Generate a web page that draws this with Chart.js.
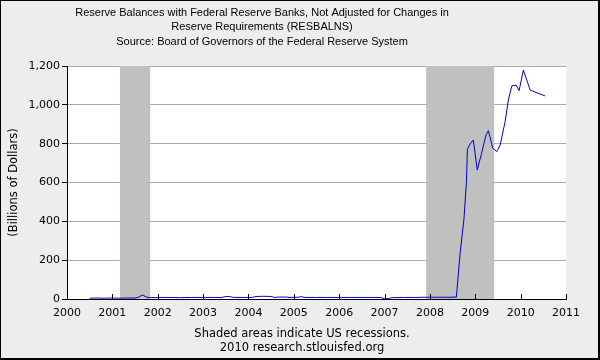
<!DOCTYPE html>
<html>
<head>
<meta charset="utf-8">
<title>RESBALNS</title>
<script src="https://cdn.jsdelivr.net/npm/chart.js@4.4.1/dist/chart.umd.min.js"></script>
<style>
    html, body { margin: 0; padding: 0; background: #ededed; }
    #wrap { width: 600px; height: 360px; }
</style>
</head>
<body>
<div id="wrap"><canvas id="resChart" width="600" height="360"></canvas></div>
<script>
// ==============================================================================
// 1. DATA
// ==============================================================================
const titleLines = [
    "Reserve Balances with Federal Reserve Banks, Not Adjusted for Changes in",
    "Reserve Requirements (RESBALNS)",
    "Source: Board of Governors of the Federal Reserve System"
];
const captionLines = ["Shaded areas indicate US recessions.", "2010 research.stlouisfed.org"];
const yAxisLabel = "(Billions of Dollars)";

// observation dates and reserve balances (billions of dollars)
const dates = [
    '2000-07-01', '2000-09-01', '2000-11-01', '2001-01-01', '2001-03-01', '2001-05-01', '2001-07-01',
    '2001-08-01', '2001-09-01', '2001-10-01', '2001-11-01', '2002-01-01', '2002-04-01', '2002-07-01',
    '2002-10-01', '2003-01-01', '2003-04-01', '2003-06-01', '2003-07-01', '2003-08-01', '2003-09-01',
    '2003-12-01', '2004-02-01', '2004-03-01', '2004-05-01', '2004-07-01', '2004-08-01', '2004-09-01',
    '2004-11-01', '2004-12-01', '2005-02-01', '2005-03-01', '2005-04-01', '2005-07-01', '2005-10-01',
    '2006-01-01', '2006-04-01', '2006-07-01', '2006-10-01', '2006-12-01', '2007-01-01', '2007-02-01',
    '2007-03-01', '2007-06-01', '2007-09-01', '2007-12-01', '2008-03-01', '2008-06-01', '2008-08-01',
    '2008-09-01', '2008-10-01', '2008-10-21', '2008-10-29', '2008-11-19', '2008-12-16', '2009-01-17',
    '2009-02-21', '2009-03-27', '2009-04-15', '2009-05-21', '2009-06-22', '2009-07-19', '2009-08-28',
    '2009-09-24', '2009-10-21', '2009-11-25', '2009-12-19', '2010-01-23', '2010-03-17', '2010-05-10',
    '2010-07-15'
];
const reserves = [
    4, 5, 4, 5, 4, 5, 5,
    10, 21, 10, 7, 8, 8, 7,
    8, 8, 8, 8, 13, 13, 8,
    8, 8, 13, 14, 13, 8, 10,
    10, 8, 9, 12, 8, 8, 8,
    8, 8, 8, 8, 8, 2, 2,
    7, 8, 8, 9, 9, 9, 10,
    237, 410, 600, 770, 798, 819, 664,
    750, 845, 867, 776, 759, 793, 913,
    1025, 1097, 1102, 1073, 1179, 1076, 1062,
    1046
];

// NBER recessions (peak month, trough month)
const recessionStarts = ['2001-03-01', '2007-12-01'];
const recessionEnds = ['2001-11-01', '2009-06-01'];

const yearTicks = [2000, 2001, 2002, 2003, 2004, 2005, 2006, 2007, 2008, 2009, 2010, 2011];
const valueTicks = [0, 200, 400, 600, 800, 1000, 1200];

// ==============================================================================
// 2. HELPERS
// ==============================================================================
function toYear(str) {
    const p = str.split('-').map(Number);
    return p[0] + (p[1] - 1) / 12 + (p[2] - 1) / 365;
}

const points = dates.map((d, i) => ({ x: toYear(d), y: reserves[i] }));

// frame, panel background, titles and captions
const framePlugin = {
    id: 'frame',
    beforeDraw(chart) {
        const ctx = chart.ctx, a = chart.chartArea;
        ctx.save();
        ctx.fillStyle = '#000';
        ctx.fillRect(0, 0, 600, 360);
        ctx.fillStyle = '#ededed';
        ctx.fillRect(1, 1, 597, 357);
        ctx.fillStyle = '#fff';
        ctx.fillRect(a.left, a.top, a.right - a.left, a.bottom - a.top);
        ctx.restore();
    },
    afterDraw(chart) {
        const ctx = chart.ctx;
        ctx.save();
        ctx.fillStyle = '#000';
        ctx.textAlign = 'center';
        ctx.textBaseline = 'alphabetic';
        ctx.font = '11px "Liberation Sans", Arial, sans-serif';
        titleLines.forEach((t, i) => ctx.fillText(t, 262, 15.5 + i * 14.5));
        ctx.font = '11.5px "DejaVu Sans", Verdana, sans-serif';
        captionLines.forEach((t, i) => ctx.fillText(t, 302, 337 + i * 14));
        ctx.restore();
    }
};

// grey recession bands plus the small inward year ticks
const recessionPlugin = {
    id: 'recessions',
    beforeDatasetsDraw(chart) {
        const ctx = chart.ctx, a = chart.chartArea, xs = chart.scales.x;
        ctx.save();
        ctx.fillStyle = '#c0c0c0';
        recessionStarts.forEach((s, i) => {
            const x0 = xs.getPixelForValue(toYear(s));
            const x1 = xs.getPixelForValue(toYear(recessionEnds[i]));
            ctx.fillRect(x0, a.top, x1 - x0, a.bottom - a.top);
        });
        ctx.restore();
    },
    afterDatasetsDraw(chart) {
        const ctx = chart.ctx, a = chart.chartArea, xs = chart.scales.x;
        ctx.save();
        ctx.strokeStyle = '#000';
        ctx.lineWidth = 1;
        ctx.beginPath();
        yearTicks.slice(1).forEach(yr => {
            const x = Math.round(xs.getPixelForValue(yr)) + 0.5;
            ctx.moveTo(x, a.bottom);
            ctx.lineTo(x, a.bottom - 5);
        });
        ctx.stroke();
        ctx.restore();
    }
};

// ==============================================================================
// 3. CHART
// ==============================================================================
new Chart(document.getElementById('resChart').getContext('2d'), {
    type: 'line',
    data: {
        datasets: [{
            data: points,
            borderColor: '#0000cc',
            borderWidth: 1,
            pointRadius: 0,
            tension: 0,
            fill: false
        }]
    },
    options: {
        responsive: false,
        animation: false,
        events: [],
        layout: { padding: { top: 66, right: 34, bottom: 0, left: 0 } },
        plugins: { legend: { display: false }, tooltip: { enabled: false } },
        scales: {
            x: {
                type: 'linear',
                min: yearTicks[0],
                max: yearTicks[yearTicks.length - 1],
                afterFit: s => { s.height = 61; },
                afterBuildTicks: s => { s.ticks = yearTicks.map(v => ({ value: v })); },
                grid: { drawOnChartArea: false, drawTicks: false },
                border: { color: '#000', width: 1 },
                ticks: {
                    color: '#000',
                    padding: 8,
                    maxRotation: 0,
                    font: { family: 'DejaVu Sans', size: 11 },
                    callback: v => String(v)
                }
            },
            y: {
                min: valueTicks[0],
                max: valueTicks[valueTicks.length - 1],
                afterFit: s => { s.width = 67; },
                afterBuildTicks: s => { s.ticks = valueTicks.map(v => ({ value: v })); },
                grid: { color: '#aaaaaa', tickColor: '#000', tickLength: 5 },
                border: { color: '#000', width: 1 },
                ticks: {
                    color: '#000',
                    padding: 2,
                    font: { family: 'DejaVu Sans', size: 11 },
                    callback: v => v.toLocaleString('en-US')
                },
                title: {
                    display: true,
                    text: yAxisLabel,
                    color: '#000',
                    padding: { top: 7 },
                    font: { family: 'DejaVu Sans', size: 11.5 }
                }
            }
        }
    },
    plugins: [framePlugin, recessionPlugin]
});
</script>
</body>
</html>
